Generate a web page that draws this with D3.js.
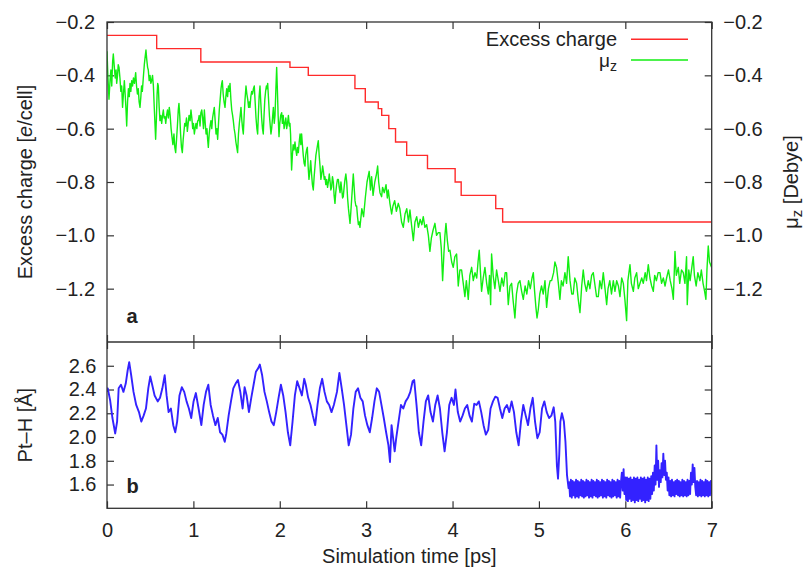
<!DOCTYPE html>
<html><head><meta charset="utf-8">
<script src="https://cdn.jsdelivr.net/npm/d3@7"></script>
<style>
body{margin:0;background:#fff}
svg{display:block}
text{font-family:"Liberation Sans",Arial,Helvetica,sans-serif;fill:#222}
</style>
</head><body>
<svg id="chart" width="805" height="568"></svg>
<script>
// ---------- data ----------
const xTicks = [0,1,2,3,4,5,6,7];
const chargeTicks = [-0.2,-0.4,-0.6,-0.8,-1.0,-1.2];
const ptHTicks = [1.6,1.8,2.0,2.2,2.4,2.6];

// Excess charge (step function): time [ps] where each level starts
const chargeStepTime  = [0,0.575,1.086,2.118,2.33,2.87,2.99,3.14,3.18,3.262,3.34,3.469,3.71,4.03,4.10,4.50,4.58,7.0];
const chargeStepValue = [-0.25,-0.30,-0.35,-0.37,-0.40,-0.45,-0.50,-0.525,-0.55,-0.60,-0.65,-0.70,-0.75,-0.80,-0.85,-0.90,-0.95,-0.95];

// mu_z [Debye] trace, [time, value]
const muZ = [
[0.000,-0.31],[0.010,-0.40],[0.023,-0.49],[0.035,-0.42],[0.045,-0.38],[0.055,-0.44],[0.065,-0.35],[0.073,-0.32],[0.085,-0.37],[0.095,-0.41],
[0.105,-0.38],[0.112,-0.43],[0.122,-0.40],[0.130,-0.36],[0.139,-0.37],[0.150,-0.41],[0.160,-0.46],[0.170,-0.44],[0.180,-0.52],[0.190,-0.47],
[0.201,-0.42],[0.212,-0.48],[0.220,-0.53],[0.228,-0.59],[0.238,-0.50],[0.248,-0.45],[0.258,-0.48],[0.266,-0.43],[0.276,-0.46],[0.286,-0.42],
[0.296,-0.44],[0.306,-0.41],[0.318,-0.43],[0.332,-0.39],[0.342,-0.44],[0.352,-0.47],[0.362,-0.45],[0.372,-0.50],[0.382,-0.52],[0.392,-0.48],
[0.400,-0.44],[0.409,-0.46],[0.420,-0.41],[0.432,-0.36],[0.442,-0.33],[0.451,-0.305],[0.460,-0.34],[0.470,-0.37],[0.478,-0.38],[0.488,-0.42],
[0.498,-0.40],[0.508,-0.43],[0.517,-0.42],[0.527,-0.40],[0.537,-0.44],[0.547,-0.52],[0.555,-0.58],[0.563,-0.64],[0.572,-0.56],[0.580,-0.47],
[0.587,-0.43],[0.594,-0.44],[0.604,-0.52],[0.613,-0.57],[0.623,-0.55],[0.633,-0.58],[0.643,-0.55],[0.652,-0.53],[0.661,-0.56],[0.671,-0.555],
[0.680,-0.58],[0.690,-0.55],[0.700,-0.53],[0.710,-0.56],[0.721,-0.52],[0.731,-0.55],[0.742,-0.60],[0.752,-0.63],[0.763,-0.66],[0.775,-0.62],
[0.785,-0.67],[0.795,-0.69],[0.805,-0.64],[0.815,-0.59],[0.825,-0.53],[0.833,-0.505],[0.842,-0.55],[0.852,-0.62],[0.862,-0.67],[0.872,-0.69],
[0.882,-0.64],[0.891,-0.61],[0.900,-0.58],[0.910,-0.59],[0.920,-0.56],[0.930,-0.61],[0.940,-0.58],[0.950,-0.55],[0.962,-0.57],[0.972,-0.53],
[0.982,-0.56],[0.992,-0.60],[1.001,-0.58],[1.011,-0.62],[1.020,-0.60],[1.030,-0.58],[1.040,-0.60],[1.050,-0.57],[1.057,-0.57],[1.067,-0.55],
[1.077,-0.59],[1.087,-0.54],[1.097,-0.53],[1.107,-0.56],[1.117,-0.60],[1.127,-0.53],[1.137,-0.58],[1.147,-0.62],[1.157,-0.60],[1.165,-0.64],
[1.173,-0.67],[1.183,-0.62],[1.193,-0.59],[1.203,-0.57],[1.213,-0.60],[1.222,-0.56],[1.232,-0.54],[1.242,-0.52],[1.252,-0.57],[1.262,-0.62],
[1.272,-0.60],[1.281,-0.64],[1.291,-0.58],[1.300,-0.53],[1.310,-0.49],[1.320,-0.45],[1.328,-0.43],[1.335,-0.42],[1.345,-0.47],[1.355,-0.50],
[1.366,-0.52],[1.376,-0.48],[1.386,-0.45],[1.396,-0.48],[1.406,-0.44],[1.416,-0.46],[1.424,-0.43],[1.434,-0.49],[1.444,-0.53],[1.454,-0.55],
[1.462,-0.57],[1.472,-0.60],[1.482,-0.62],[1.492,-0.65],[1.502,-0.67],[1.512,-0.69],[1.522,-0.62],[1.532,-0.58],[1.542,-0.55],[1.551,-0.52],
[1.561,-0.57],[1.570,-0.60],[1.578,-0.62],[1.588,-0.55],[1.598,-0.49],[1.609,-0.44],[1.619,-0.47],[1.629,-0.49],[1.639,-0.52],[1.647,-0.50],
[1.655,-0.52],[1.665,-0.48],[1.675,-0.46],[1.685,-0.47],[1.695,-0.45],[1.705,-0.44],[1.715,-0.50],[1.725,-0.56],[1.735,-0.60],[1.744,-0.62],
[1.752,-0.55],[1.761,-0.48],[1.771,-0.44],[1.780,-0.50],[1.790,-0.56],[1.800,-0.60],[1.809,-0.62],[1.818,-0.55],[1.827,-0.49],[1.836,-0.46],
[1.845,-0.44],[1.853,-0.45],[1.860,-0.43],[1.870,-0.49],[1.880,-0.55],[1.890,-0.59],[1.898,-0.62],[1.906,-0.60],[1.916,-0.56],[1.926,-0.52],
[1.936,-0.58],[1.945,-0.55],[1.955,-0.45],[1.964,-0.37],[1.972,-0.45],[1.981,-0.55],[1.991,-0.63],[2.000,-0.58],[2.011,-0.55],[2.022,-0.54],
[2.030,-0.58],[2.040,-0.55],[2.050,-0.60],[2.060,-0.58],[2.070,-0.56],[2.080,-0.60],[2.090,-0.58],[2.100,-0.55],[2.110,-0.59],[2.118,-0.58],
[2.125,-0.62],[2.130,-0.68],[2.137,-0.755],[2.146,-0.70],[2.155,-0.66],[2.165,-0.68],[2.176,-0.65],[2.186,-0.68],[2.196,-0.70],[2.205,-0.67],
[2.215,-0.69],[2.225,-0.65],[2.235,-0.62],[2.244,-0.66],[2.253,-0.62],[2.262,-0.66],[2.272,-0.70],[2.282,-0.73],[2.292,-0.74],[2.300,-0.70],
[2.310,-0.68],[2.319,-0.67],[2.328,-0.74],[2.338,-0.79],[2.348,-0.76],[2.358,-0.72],[2.368,-0.77],[2.378,-0.81],[2.388,-0.83],[2.398,-0.78],
[2.408,-0.74],[2.418,-0.70],[2.428,-0.68],[2.438,-0.66],[2.446,-0.645],[2.456,-0.70],[2.466,-0.74],[2.476,-0.79],[2.486,-0.77],[2.496,-0.74],
[2.505,-0.76],[2.515,-0.79],[2.523,-0.78],[2.533,-0.81],[2.543,-0.79],[2.553,-0.82],[2.563,-0.80],[2.573,-0.77],[2.583,-0.80],[2.591,-0.83],
[2.600,-0.82],[2.610,-0.78],[2.620,-0.80],[2.629,-0.85],[2.639,-0.88],[2.648,-0.84],[2.658,-0.81],[2.668,-0.79],[2.678,-0.79],[2.688,-0.82],
[2.698,-0.84],[2.708,-0.80],[2.718,-0.83],[2.727,-0.86],[2.735,-0.855],[2.745,-0.82],[2.755,-0.79],[2.765,-0.77],[2.775,-0.80],[2.785,-0.86],
[2.795,-0.90],[2.805,-0.93],[2.813,-0.955],[2.823,-0.91],[2.833,-0.86],[2.843,-0.81],[2.851,-0.77],[2.861,-0.82],[2.871,-0.87],[2.881,-0.89],
[2.890,-0.89],[2.900,-0.93],[2.910,-0.96],[2.920,-0.95],[2.928,-0.97],[2.950,-0.90],[2.970,-0.93],[2.990,-0.86],[3.010,-0.80],[3.035,-0.76],
[3.050,-0.83],[3.063,-0.78],[3.080,-0.85],[3.100,-0.80],[3.120,-0.77],[3.133,-0.74],[3.145,-0.80],[3.160,-0.84],[3.179,-0.855],[3.190,-0.82],
[3.210,-0.84],[3.230,-0.81],[3.245,-0.86],[3.256,-0.83],[3.275,-0.88],[3.295,-0.92],[3.310,-0.89],[3.330,-0.87],[3.350,-0.91],[3.372,-0.88],
[3.390,-0.90],[3.410,-0.95],[3.430,-0.97],[3.450,-0.92],[3.470,-0.90],[3.490,-0.95],[3.507,-0.905],[3.525,-0.96],[3.546,-1.02],[3.565,-0.95],
[3.585,-0.93],[3.605,-0.97],[3.625,-0.94],[3.645,-0.96],[3.661,-0.93],[3.680,-0.97],[3.700,-0.96],[3.720,-1.00],[3.738,-1.06],[3.755,-1.01],
[3.775,-0.98],[3.796,-0.955],[3.815,-1.00],[3.835,-0.99],[3.854,-0.99],[3.870,-1.05],[3.885,-1.17],[3.900,-1.07],[3.912,-1.00],[3.924,-0.955],
[3.940,-1.02],[3.955,-1.06],[3.970,-1.056],[3.990,-1.10],[4.008,-1.12],[4.027,-1.08],[4.047,-1.07],[4.066,-1.19],[4.085,-1.13],[4.105,-1.13],
[4.120,-1.17],[4.143,-1.23],[4.160,-1.17],[4.182,-1.24],[4.200,-1.15],[4.221,-1.12],[4.240,-1.17],[4.260,-1.14],[4.280,-1.16],[4.295,-1.10],
[4.309,-1.056],[4.322,-1.13],[4.336,-1.21],[4.355,-1.16],[4.375,-1.12],[4.395,-1.18],[4.414,-1.22],[4.428,-1.15],[4.441,-1.26],[4.452,-1.07],
[4.470,-1.15],[4.490,-1.20],[4.510,-1.13],[4.530,-1.17],[4.549,-1.21],[4.570,-1.16],[4.590,-1.19],[4.610,-1.14],[4.626,-1.14],[4.645,-1.26],
[4.665,-1.19],[4.684,-1.18],[4.700,-1.24],[4.722,-1.31],[4.740,-1.22],[4.760,-1.18],[4.780,-1.17],[4.800,-1.21],[4.819,-1.24],[4.840,-1.19],
[4.860,-1.22],[4.880,-1.17],[4.900,-1.20],[4.920,-1.16],[4.935,-1.14],[4.950,-1.21],[4.965,-1.27],[4.978,-1.31],[4.992,-1.28],[5.010,-1.22],
[5.030,-1.19],[5.050,-1.22],[5.070,-1.17],[5.089,-1.27],[5.110,-1.20],[5.130,-1.17],[5.147,-1.17],[5.170,-1.14],[5.185,-1.10],[5.204,-1.12],
[5.225,-1.18],[5.243,-1.24],[5.260,-1.17],[5.280,-1.19],[5.301,-1.14],[5.320,-1.18],[5.339,-1.08],[5.360,-1.17],[5.380,-1.22],[5.397,-1.22],
[5.415,-1.16],[5.436,-1.18],[5.455,-1.24],[5.475,-1.29],[5.495,-1.19],[5.513,-1.13],[5.530,-1.18],[5.550,-1.21],[5.571,-1.17],[5.590,-1.20],
[5.610,-1.15],[5.629,-1.14],[5.650,-1.19],[5.667,-1.23],[5.687,-1.23],[5.705,-1.17],[5.725,-1.20],[5.745,-1.14],[5.765,-1.20],[5.784,-1.26],
[5.800,-1.20],[5.820,-1.17],[5.840,-1.22],[5.861,-1.17],[5.880,-1.21],[5.900,-1.17],[5.920,-1.19],[5.938,-1.23],[5.958,-1.16],[5.977,-1.18],
[5.995,-1.24],[6.015,-1.32],[6.030,-1.17],[6.054,-1.11],[6.070,-1.18],[6.093,-1.21],[6.110,-1.16],[6.131,-1.14],[6.150,-1.20],[6.170,-1.18],
[6.190,-1.16],[6.208,-1.18],[6.230,-1.14],[6.245,-1.17],[6.266,-1.11],[6.285,-1.16],[6.305,-1.19],[6.324,-1.21],[6.340,-1.15],[6.360,-1.17],
[6.380,-1.14],[6.401,-1.14],[6.420,-1.18],[6.440,-1.16],[6.460,-1.19],[6.478,-1.16],[6.500,-1.13],[6.520,-1.17],[6.540,-1.20],[6.556,-1.24],
[6.575,-1.06],[6.590,-1.15],[6.613,-1.12],[6.630,-1.18],[6.650,-1.13],[6.671,-1.14],[6.690,-1.18],[6.709,-1.08],[6.717,-1.26],[6.735,-1.13],
[6.750,-1.17],[6.770,-1.12],[6.786,-1.08],[6.800,-1.15],[6.820,-1.19],[6.840,-1.14],[6.863,-1.17],[6.880,-1.13],[6.900,-1.18],[6.918,-1.21],
[6.933,-1.24],[6.945,-1.13],[6.960,-1.04],[6.975,-1.10],[6.998,-1.12]
];

// Pt-H distance [Å] before the drop, [time, value]
const ptHMain = [
[0.000,2.38],[0.009,2.41],[0.036,2.31],[0.063,2.16],[0.095,2.03],[0.117,2.13],[0.135,2.41],[0.162,2.44],[0.190,2.38],[0.217,2.45],
[0.239,2.56],[0.257,2.63],[0.280,2.52],[0.307,2.38],[0.338,2.27],[0.370,2.21],[0.397,2.13],[0.424,2.18],[0.451,2.24],[0.478,2.41],
[0.501,2.51],[0.523,2.44],[0.551,2.35],[0.587,2.30],[0.614,2.33],[0.641,2.41],[0.668,2.52],[0.690,2.35],[0.713,2.21],[0.740,2.24],
[0.767,2.10],[0.790,2.04],[0.812,2.13],[0.839,2.35],[0.866,2.42],[0.894,2.38],[0.921,2.30],[0.948,2.24],[0.975,2.16],[1.002,2.30],
[1.029,2.37],[1.060,2.24],[1.092,2.10],[1.119,2.27],[1.146,2.38],[1.173,2.44],[1.200,2.27],[1.227,2.18],[1.255,2.10],[1.282,2.16],
[1.309,2.04],[1.336,2.02],[1.363,1.96],[1.381,2.03],[1.408,2.18],[1.435,2.30],[1.462,2.41],[1.489,2.45],[1.516,2.48],[1.543,2.38],
[1.570,2.24],[1.593,2.42],[1.616,2.35],[1.643,2.21],[1.670,2.33],[1.697,2.44],[1.724,2.55],[1.751,2.58],[1.769,2.61],[1.796,2.52],
[1.823,2.38],[1.850,2.30],[1.877,2.21],[1.904,2.13],[1.931,2.10],[1.959,2.21],[1.986,2.33],[2.013,2.44],[2.040,2.35],[2.067,2.21],
[2.094,2.04],[2.121,1.93],[2.148,2.13],[2.175,2.35],[2.202,2.47],[2.229,2.41],[2.256,2.35],[2.283,2.49],[2.301,2.44],[2.329,2.33],
[2.356,2.27],[2.383,2.18],[2.410,2.10],[2.437,2.27],[2.464,2.41],[2.491,2.49],[2.518,2.38],[2.545,2.30],[2.572,2.27],[2.599,2.21],
[2.626,2.27],[2.662,2.38],[2.690,2.54],[2.717,2.41],[2.744,2.27],[2.771,2.10],[2.798,1.93],[2.825,2.02],[2.852,2.24],[2.879,2.38],
[2.906,2.41],[2.933,2.33],[2.960,2.30],[2.987,2.18],[3.014,2.10],[3.042,2.04],[3.069,2.16],[3.096,2.30],[3.123,2.41],[3.150,2.38],
[3.177,2.27],[3.204,2.16],[3.231,2.04],[3.258,1.93],[3.276,1.79],[3.294,2.10],[3.312,1.99],[3.330,1.88],[3.348,1.99],[3.375,2.13],
[3.403,2.27],[3.430,2.24],[3.457,2.30],[3.484,2.33],[3.511,2.38],[3.538,2.47],[3.556,2.48],[3.583,2.27],[3.610,2.04],[3.637,1.93],
[3.664,2.13],[3.691,2.30],[3.718,2.35],[3.745,2.21],[3.773,2.13],[3.800,2.27],[3.827,2.35],[3.854,2.24],[3.881,2.04],[3.908,1.88],
[3.935,2.04],[3.962,2.27],[3.989,2.33],[4.016,2.27],[4.034,2.40],[4.061,2.21],[4.088,2.13],[4.116,2.18],[4.143,2.24],[4.170,2.27],
[4.197,2.18],[4.224,2.13],[4.251,2.28],[4.278,2.27],[4.305,2.30],[4.332,2.21],[4.359,2.10],[4.386,2.02],[4.413,2.06],[4.440,2.24],
[4.468,2.30],[4.495,2.34],[4.522,2.33],[4.549,2.24],[4.576,2.16],[4.603,2.24],[4.630,2.27],[4.657,2.21],[4.684,2.30],[4.711,2.21],
[4.738,2.04],[4.765,1.93],[4.792,2.13],[4.819,2.27],[4.847,2.18],[4.874,2.10],[4.901,2.24],[4.928,2.33],[4.955,2.13],[4.982,1.99],
[5.009,2.04],[5.036,2.24],[5.063,2.30],[5.090,2.21],[5.117,2.16],[5.144,2.18],[5.171,2.25],[5.189,2.13],[5.208,1.76],[5.221,1.65],
[5.235,1.85],[5.248,2.13],[5.266,2.20],[5.289,2.13],[5.307,1.96],[5.325,1.68],[5.343,1.57]
];

// Pt-H after the drop: fast oscillation sampled every 0.01 ps from 5.35 ps
const ptHTailStart = 5.35;
const ptHTailStep = 0.01;
const ptHTail = [
1.62,1.50,1.64,1.49,1.63,1.51,1.62,1.49,1.64,1.50,
1.63,1.49,1.62,1.51,1.64,1.50,1.63,1.49,1.62,1.50,
1.64,1.51,1.63,1.49,1.62,1.50,1.64,1.49,1.63,1.51,
1.62,1.50,1.64,1.49,1.63,1.50,1.62,1.51,1.64,1.49,
1.63,1.50,1.62,1.49,1.64,1.51,1.63,1.50,1.62,1.49,
1.64,1.50,1.63,1.51,1.62,1.49,1.64,1.50,1.63,1.49,
1.62,
1.70,1.55,1.73,1.52,1.66,
1.47,1.66,1.46,1.65,1.48,1.66,1.46,1.64,1.47,1.66,
1.45,1.65,1.47,1.66,1.46,1.64,1.48,1.66,1.46,1.65,
1.47,1.66,1.45,1.64,1.47,1.66,1.46,1.65,1.48,1.67,
1.52,1.70,1.55,1.76,1.60,1.93,1.64,1.80,1.58,1.72,
1.62,1.78,1.66,1.86,1.68,1.80,1.64,1.70,1.55,1.66,
1.51,1.63,1.50,1.64,1.51,1.62,1.50,1.63,1.52,1.64,
1.51,1.63,1.50,1.62,1.51,1.64,1.50,1.63,1.51,1.62,
1.50,1.64,1.51,1.63,1.52,
1.70,1.60,1.77,1.62,1.74,1.58,
1.51,1.63,1.50,1.62,1.51,1.64,1.50,1.63,1.51,1.62,
1.50,1.64,1.51,1.63,1.50,1.62,1.51,1.63,1.52
];

// ---------- layout ----------
const L = 107, R = 711.7, T = 22, MID = 342, B = 508.3;
const axisColor = "#333";
const svg = d3.select("#chart");

const x = d3.scaleLinear().domain([0,7]).range([L,R]);
const yTop = d3.scaleLinear().domain([-1.4,-0.2]).range([MID,T]);
const yBot = d3.scaleLinear().domain([1.4,2.8]).range([B,MID]);

svg.append("defs").call(d=>{
  d.append("clipPath").attr("id","clipTop").append("rect").attr("x",L).attr("y",T).attr("width",R-L).attr("height",MID-T);
  d.append("clipPath").attr("id","clipBot").append("rect").attr("x",L).attr("y",MID).attr("width",R-L).attr("height",B-MID);
});

function styleAxis(g){
  g.select(".domain").remove();
  g.selectAll(".tick line").attr("stroke",axisColor).attr("stroke-width",1.2);
  g.selectAll(".tick text").attr("font-size",20).attr("fill","#222")
    .attr("font-family","'Liberation Sans',Arial,Helvetica,sans-serif");
}
const fmt = d3.format(".1f");
const tickLen = -7;

// top panel axes
svg.append("g").attr("transform",`translate(${L},0)`)
  .call(d3.axisLeft(yTop).tickValues(chargeTicks).tickFormat(fmt).tickSize(tickLen).tickPadding(12)).call(styleAxis);
svg.append("g").attr("transform",`translate(${R},0)`)
  .call(d3.axisRight(yTop).tickValues(chargeTicks).tickFormat(fmt).tickSize(tickLen).tickPadding(11.5)).call(styleAxis);
svg.append("g").attr("transform",`translate(0,${T})`)
  .call(d3.axisTop(x).tickValues(xTicks).tickFormat("").tickSize(tickLen)).call(styleAxis);
svg.append("g").attr("transform",`translate(0,${MID})`)
  .call(d3.axisBottom(x).tickValues(xTicks).tickFormat("").tickSize(tickLen)).call(styleAxis);

// bottom panel axes
svg.append("g").attr("transform",`translate(0,${MID})`)
  .call(d3.axisTop(x).tickValues(xTicks).tickFormat("").tickSize(tickLen)).call(styleAxis);
svg.append("g").attr("transform",`translate(0,${B})`)
  .call(d3.axisBottom(x).tickValues(xTicks).tickFormat(d3.format("d")).tickSize(tickLen).tickPadding(14.5)).call(styleAxis);
svg.append("g").attr("transform",`translate(${L},0)`)
  .call(d3.axisLeft(yBot).tickValues(ptHTicks).tickFormat(fmt).tickSize(tickLen).tickPadding(10.5)).call(styleAxis);
svg.append("g").attr("transform",`translate(${R},0)`)
  .call(d3.axisRight(yBot).tickValues(ptHTicks).tickFormat("").tickSize(tickLen)).call(styleAxis);

// ---------- series ----------
const chargeData = chargeStepTime.map((t,i)=>[t,chargeStepValue[i]]);
svg.append("path").datum(chargeData)
  .attr("clip-path","url(#clipTop)")
  .attr("fill","none").attr("stroke","#ff2a2a").attr("stroke-width",1.4)
  .attr("d", d3.line().x(d=>x(d[0])).y(d=>yTop(d[1])).curve(d3.curveStepAfter));

svg.append("path").datum(muZ)
  .attr("clip-path","url(#clipTop)")
  .attr("fill","none").attr("stroke","#12ee12").attr("stroke-width",1.4).attr("stroke-linejoin","round")
  .attr("d", d3.line().x(d=>x(d[0])).y(d=>yTop(d[1])));

const ptHData = ptHMain.concat(ptHTail.map((v,i)=>[ptHTailStart + i*ptHTailStep, v]));
svg.append("path").datum(ptHData)
  .attr("clip-path","url(#clipBot)")
  .attr("fill","none").attr("stroke","#3322ff").attr("stroke-width",1.9).attr("stroke-linejoin","round")
  .attr("d", d3.line().x(d=>x(d[0])).y(d=>yBot(d[1])));

// ---------- frame ----------
svg.append("rect").attr("x",L).attr("y",T).attr("width",R-L).attr("height",B-T)
  .attr("fill","none").attr("stroke",axisColor).attr("stroke-width",1.3);
svg.append("line").attr("x1",L).attr("x2",R).attr("y1",MID).attr("y2",MID)
  .attr("stroke",axisColor).attr("stroke-width",1.3);

// ---------- legend ----------
const legend = svg.append("g");
legend.append("text").attr("x",617).attr("y",45.5).attr("text-anchor","end").attr("font-size",20).text("Excess charge");
legend.append("line").attr("x1",631).attr("x2",688).attr("y1",39.3).attr("y2",39.3).attr("stroke","#ff2a2a").attr("stroke-width",1.4);
const muLeg = legend.append("text").attr("x",617).attr("y",66.5).attr("text-anchor","end").attr("font-size",19);
muLeg.append("tspan").text("μ");
muLeg.append("tspan").attr("font-size",14).attr("dy",4).text("z");
legend.append("line").attr("x1",631).attr("x2",688).attr("y1",60).attr("y2",60).attr("stroke","#12ee12").attr("stroke-width",1.4);

// ---------- panel labels ----------
svg.append("text").attr("x",126.5).attr("y",323).attr("font-size",20).attr("font-weight","bold").attr("fill","#111").text("a");
svg.append("text").attr("x",126.5).attr("y",493).attr("font-size",20).attr("font-weight","bold").attr("fill","#111").text("b");

// ---------- axis titles ----------
const yl = svg.append("text").attr("transform",`translate(32,${(T+MID)/2}) rotate(-90)`)
  .attr("text-anchor","middle").attr("font-size",20);
yl.append("tspan").text("Excess charge [");
yl.append("tspan").attr("font-style","italic").text("e");
yl.append("tspan").text("/cell]");

svg.append("text").attr("transform",`translate(32,${(MID+B)/2}) rotate(-90)`)
  .attr("text-anchor","middle").attr("font-size",20).text("Pt–H [Å]");

const yr = svg.append("text").attr("transform",`translate(798,${(T+MID)/2}) rotate(-90)`)
  .attr("text-anchor","middle").attr("font-size",20);
yr.append("tspan").text("μ");
yr.append("tspan").attr("font-size",15).attr("dy",4).text("z");
yr.append("tspan").attr("dy",-4).text(" [Debye]");

svg.append("text").attr("x",(L+R)/2).attr("y",563).attr("text-anchor","middle").attr("font-size",20)
  .text("Simulation time [ps]");
</script>
</body></html>
